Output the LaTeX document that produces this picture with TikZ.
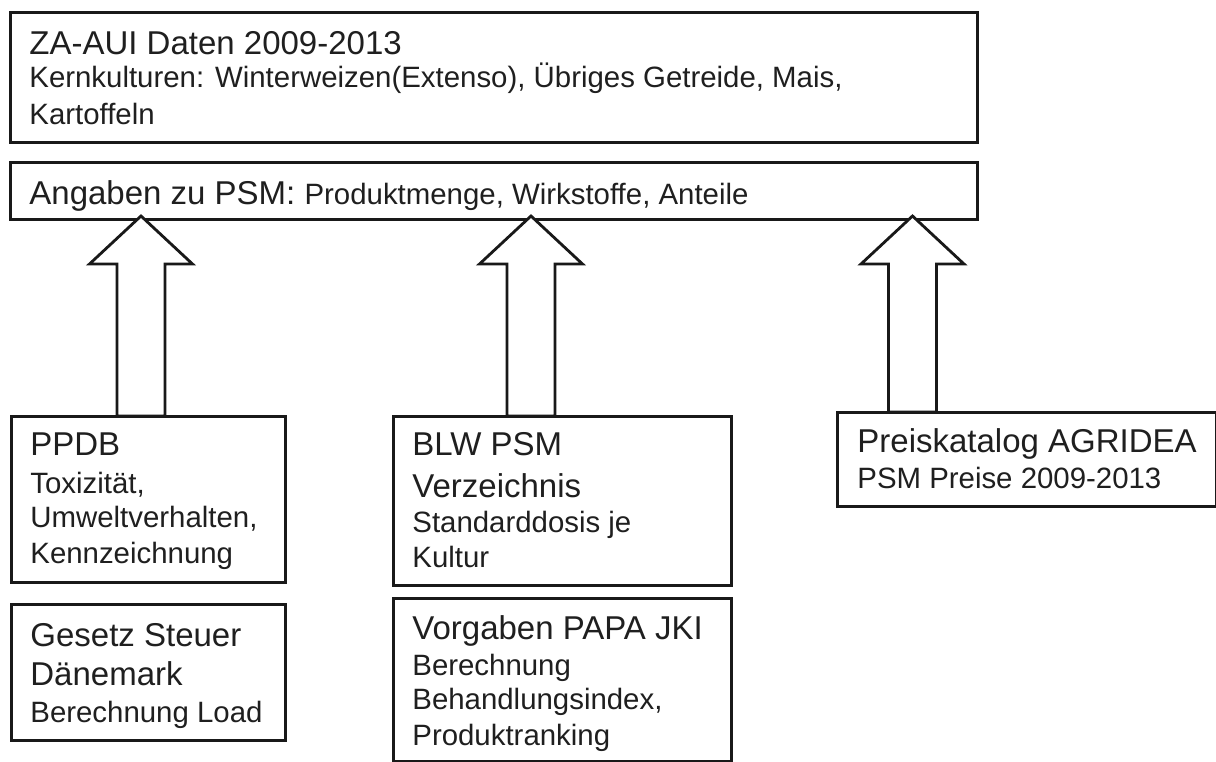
\documentclass[tikz,border=0pt]{standalone}
\usepackage{fontspec}
\setmainfont{Liberation Sans}
\usetikzlibrary{fit,calc}
\newcommand\fbig{\fontsize{16.5pt}{19pt}\selectfont}
\newcommand\fsmall{\fontsize{14.7pt}{17pt}\selectfont}
\newcommand\blockarrow[2]{%
  \draw[arrowshape] ($(#1)+(-24,0)$) -- ($(#2)+(-24,45)$) -- ($(#2)+(-51.5,45)$)
    -- ($(#2)+(0,-3)$) -- ($(#2)+(51.5,45)$) -- ($(#2)+(24,45)$) -- ($(#1)+(24,0)$) -- cycle;}
\begin{document}
\begin{tikzpicture}[x=0.5pt,y=-0.5pt,
  box/.style={draw=black!90, line width=1.5pt, inner sep=0pt, outer sep=0pt},
  bigtxt/.style={anchor=base west, inner sep=0pt, font=\fbig, text=black!88},
  smalltxt/.style={anchor=base west, inner sep=0pt, font=\fsmall, text=black!88},
  arrowshape/.style={draw=black!90, line width=1.4pt, fill=white, line join=miter}]
\useasboundingbox (0,0) rectangle (1216,761);
\fill[white] (0,0) rectangle (1216,761);
\begin{scope}
\clip (0,0) rectangle (1216,761);
% boxes
\node[box, fit={(10,12) (977,142)}] (za) {};
\node[box, fit={(10,162) (977,219)}] (ang) {};
\node[box, fit={(11,416) (285,582)}] (ppdb) {};
\node[box, fit={(393,416) (731,585)}] (blw) {};
\node[box, fit={(837,412) (1216,506)}] (preis) {};
\node[box, fit={(11,604) (285,740)}] (gesetz) {};
\node[box, fit={(393,598) (731,761)}] (vorg) {};
% arrows
\coordinate (b1) at ($(ppdb.north west)+(130,0)$);
\coordinate (b2) at ($(blw.north west)+(138,0)$);
\coordinate (b3) at ($(preis.north west)+(75.5,0)$);
\coordinate (t1) at (b1 |- ang.south);
\coordinate (t2) at (b2 |- ang.south);
\coordinate (t3) at (b3 |- ang.south);
\blockarrow{b1}{t1}
\blockarrow{b2}{t2}
\blockarrow{b3}{t3}
% texts
\node[bigtxt] (za1) at (29,54) {ZA-AUI Daten 2009-2013};
\node[smalltxt] (za2) at (29,87) {Kernkulturen: Winterweizen(Extenso), Übriges Getreide, Mais,};
\node[smalltxt] (za3) at (29,124) {Kartoffeln};
\node[bigtxt] (ang1) at (29,204) {Angaben zu PSM: {\fsmall Produktmenge, Wirkstoffe, Anteile}};
\node[bigtxt] (pp1) at (30,455) {PPDB};
\node[smalltxt] (pp2) at (30,493) {Toxizität,};
\node[smalltxt] (pp3) at (30,527) {Umweltverhalten,};
\node[smalltxt] (pp4) at (30,563) {Kennzeichnung};
\node[bigtxt] (ge1) at (30,646) {Gesetz Steuer};
\node[bigtxt] (ge2) at (30,685) {Dänemark};
\node[smalltxt] (ge3) at (30,722) {Berechnung Load};
\node[bigtxt] (bl1) at (412,455) {BLW PSM};
\node[bigtxt] (bl2) at (412,497) {Verzeichnis};
\node[smalltxt] (bl3) at (412,532) {Standarddosis je};
\node[smalltxt] (bl4) at (412,567) {Kultur};
\node[bigtxt] (vo1) at (412,639) {Vorgaben PAPA JKI};
\node[smalltxt] (vo2) at (412,675) {Berechnung};
\node[smalltxt] (vo3) at (412,709) {Behandlungsindex,};
\node[smalltxt] (vo4) at (412,745) {Produktranking};
\node[bigtxt] (pr1) at (857,452) {Preiskatalog AGRIDEA};
\node[smalltxt] (pr2) at (857,488) {PSM Preise 2009-2013};
\end{scope}
\end{tikzpicture}
\end{document}
